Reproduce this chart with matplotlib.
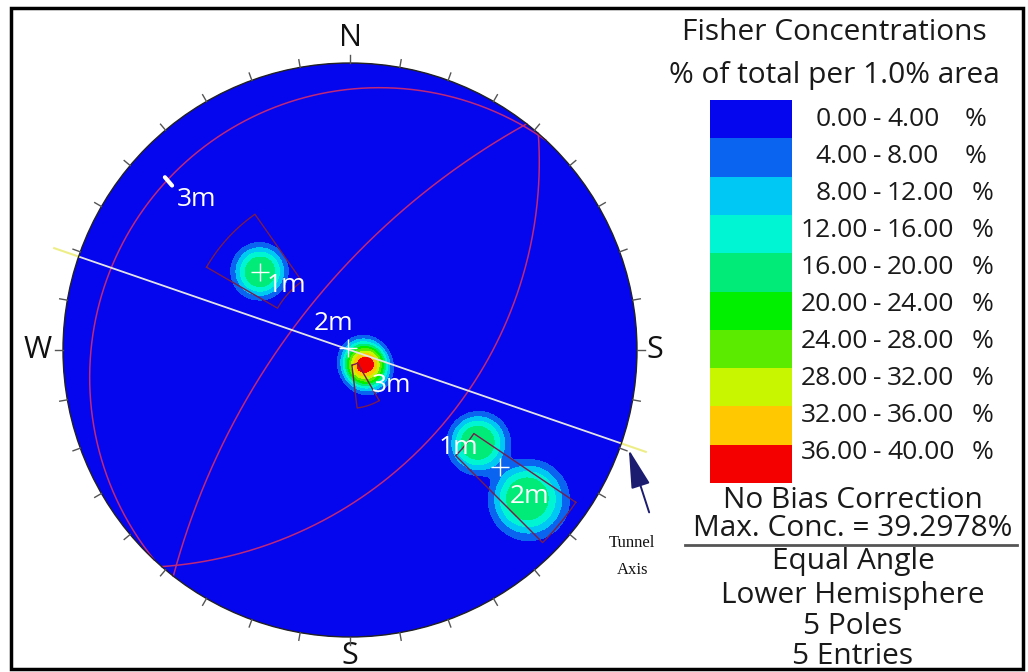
import matplotlib.pyplot as plt
import numpy as np
from matplotlib.patches import Circle, Rectangle

# individual poles (trend, plunge in degrees), lower hemisphere
pole_trend = [311.0, 128.0, 138.0, 126.0, 130.0]
pole_plunge = [45.0, 83.5, 79.5, 32.5, 12.4]

# mean poles drawn as crosses
mean_trend = [311.0, 315.0, 128.0]
mean_plunge = [45.0, 89.0, 23.0]

# mean planes (dip direction, dip)
plane_dd = [131.0, 313.0, 308.0]
plane_dip = [45.0, 8.0, 67.0]

# set windows: trend range, plunge range
win_t1 = [300.0, 150.0, 124.0]
win_t2 = [325.0, 173.0, 135.0]
win_p1 = [30.0, 67.0, 3.0]
win_p2 = [57.5, 84.0, 35.0]

tunnel_trend = 109.0

levels = [0, 4, 8, 12, 16, 20, 24, 28, 32, 36, 40]
colors = ['#0505ee', '#0a64f0', '#00c8f5', '#00f5d2', '#00eb78',
          '#00f000', '#5aeb00', '#c8f500', '#ffc800', '#f50000']
kappa = 95.0

info = ['No Bias Correction', 'Max. Conc. = 39.2978%', 'Equal Angle',
        'Lower Hemisphere', '5 Poles', '5 Entries']


def vec(trend, plunge):
    t, p = np.radians(trend), np.radians(plunge)
    return np.array([np.cos(p) * np.sin(t), np.cos(p) * np.cos(t), np.sin(p)])


def project(trend, plunge):
    e, n, d = vec(np.asarray(trend), np.asarray(plunge))
    return e / (1 + d), n / (1 + d)


def great_circle(dd, dip):
    s = np.radians(dd - 90)
    sv = np.array([np.sin(s), np.cos(s), 0.0])
    dv = vec(dd, dip)
    a = np.linspace(0, np.pi, 200)
    v = np.outer(np.cos(a), sv) + np.outer(np.sin(a), dv)
    return v[:, 0] / (1 + v[:, 2]), v[:, 1] / (1 + v[:, 2])


def window(t1, t2, p1, p2):
    t = np.linspace(t1, t2, 30)
    tt = np.concatenate([t, t[::-1], [t1]])
    pp = np.concatenate([np.full(30, p1), np.full(30, p2), [p1]])
    return project(tt, pp)


fig = plt.figure(figsize=(10.28, 6.72), dpi=100)

# stereonet axes: unit circle -> 287 px, centred at (350, 350) from top
R = 287.0
half = 1.2 * R
ax = fig.add_axes([(350 - half) / 1028, (322 - half) / 672, 2 * half / 1028, 2 * half / 672])
ax.set_xlim(-1.2, 1.2)
ax.set_ylim(-1.2, 1.2)
ax.axis('off')

# concentration grid (Fisher-type kernel, flattened top)
g = np.linspace(-1.02, 1.02, 300)
X, Y = np.meshgrid(g, g)
r2 = X ** 2 + Y ** 2
E = 2 * X / (1 + r2)
N = 2 * Y / (1 + r2)
D = (1 - r2) / (1 + r2)
dens = np.zeros_like(X)
for t, p in zip(pole_trend, pole_plunge):
    pv = vec(t, p)
    c = np.abs(E * pv[0] + N * pv[1] + D * pv[2])
    dens += 100.0 / len(pole_trend) * np.exp(-(kappa * (1 - c)) ** 1.5)

rim = Circle((0, 0), 1, facecolor=colors[0], edgecolor='none', zorder=1)
ax.add_patch(rim)
cs = ax.contourf(X, Y, dens, levels=levels, colors=colors, zorder=2)
cs.set_clip_path(rim)
ax.add_patch(Circle((0, 0), 1, facecolor='none', edgecolor='#222222', lw=1, zorder=6))

# rim ticks every 10 degrees
for az in range(0, 360, 10):
    a = np.radians(az)
    ax.plot([np.sin(a), 1.027 * np.sin(a)], [np.cos(a), 1.027 * np.cos(a)],
            color='#555555', lw=1, zorder=6)

# great circles of the mean planes
for dd, dip in zip(plane_dd, plane_dip):
    gx, gy = great_circle(dd, dip)
    ax.plot(gx, gy, color='#c02878', lw=1.1, zorder=4)

# set windows
for t1, t2, p1, p2 in zip(win_t1, win_t2, win_p1, win_p2):
    wx, wy = window(t1, t2, p1, p2)
    ax.plot(wx, wy, color='#7a1c4c', lw=1, zorder=4)

# tunnel axis
ta = np.radians(tunnel_trend)
ux, uy = np.sin(ta), np.cos(ta)
ax.plot([-ux, ux], [-uy, uy], color='#e4e4e4', lw=1.3, zorder=5)
for sgn in (-1, 1):
    ax.plot([sgn * ux, sgn * 1.09 * ux], [sgn * uy, sgn * 1.09 * uy],
            color='#eeee88', lw=1.5, zorder=5)

# mean poles
mx, my = project(mean_trend, mean_plunge)
ax.plot(mx, my, '+', color='white', ms=13, mew=1, zorder=7)

# pole labels
lab_font = dict(color='white', fontsize=19, family='Open Sans', ha='center', va='center', zorder=8)
for txt, x, y in [('3m', -0.533, 0.523), ('1m', -0.220, 0.226), ('2m', -0.056, 0.091),
                  ('3m', 0.146, -0.125), ('1m', 0.376, -0.338), ('2m', 0.627, -0.512)]:
    ax.text(x, y, txt, **lab_font)
ax.plot([-0.645, -0.620], [0.602, 0.573], color='white', lw=3, solid_capstyle='round', zorder=8)

# compass letters
comp = dict(fontsize=22, family='Open Sans', color='#111111', ha='center', va='center')
ax.text(0, 1.087, 'N', **comp)
ax.text(-1.087, 0, 'W', **comp)
ax.text(1.063, 0, 'S', **comp)
ax.text(0, -1.066, 'S', **comp)

# right panel in pixel coordinates
ax2 = fig.add_axes([0, 0, 1, 1])
ax2.set_xlim(0, 1028)
ax2.set_ylim(672, 0)
ax2.axis('off')
ax2.add_patch(Rectangle((11, 8), 1012, 661, facecolor='none', edgecolor='black', lw=2.5))

ink = '#1a1a1a'
pan = dict(family='Open Sans', color=ink, ha='center', va='center')
ax2.text(834, 33, 'Fisher Concentrations', fontsize=21.5, **pan)
ax2.text(834, 75, '% of total per 1.0% area', fontsize=21.5, **pan)

box_h = 383.0 / (len(levels) - 1)
leg = dict(fontsize=19, family='Open Sans', color=ink, va='center')
for i in range(len(levels) - 1):
    ax2.add_patch(Rectangle((710, 100 + i * box_h), 82, box_h, facecolor=colors[i], edgecolor='none'))
    ty = 119 + i * 37.1
    hi = levels[i + 1]
    ax2.text(868, ty, f'{levels[i]:.2f}', ha='right', **leg)
    ax2.text(877, ty, '-', ha='center', **leg)
    ax2.text(887, ty, f'{hi:.2f}', ha='left', **leg)
    ax2.text(972 if hi >= 10 else 965, ty, '%', ha='left', **leg)

for txt, y in zip(info, [500, 529, 562, 595, 627, 656]):
    ax2.text(853, y, txt, fontsize=21.5, **pan)
ax2.plot([685, 1017], [545, 545], color='#555555', lw=2)

# tunnel axis callout
ax2.annotate('', xy=(628, 447), xytext=(650, 515),
             arrowprops=dict(arrowstyle='-|>,head_length=2.4,head_width=0.6',
                             color='#1c1c70', lw=1.4))
ax2.text(632, 543, 'Tunnel', fontsize=12, family='Liberation Serif', color='#111111', ha='center', va='center')
ax2.text(633, 570, 'Axis', fontsize=12, family='Liberation Serif', color='#111111', ha='center', va='center')

fig.savefig('out.png', dpi=100)
